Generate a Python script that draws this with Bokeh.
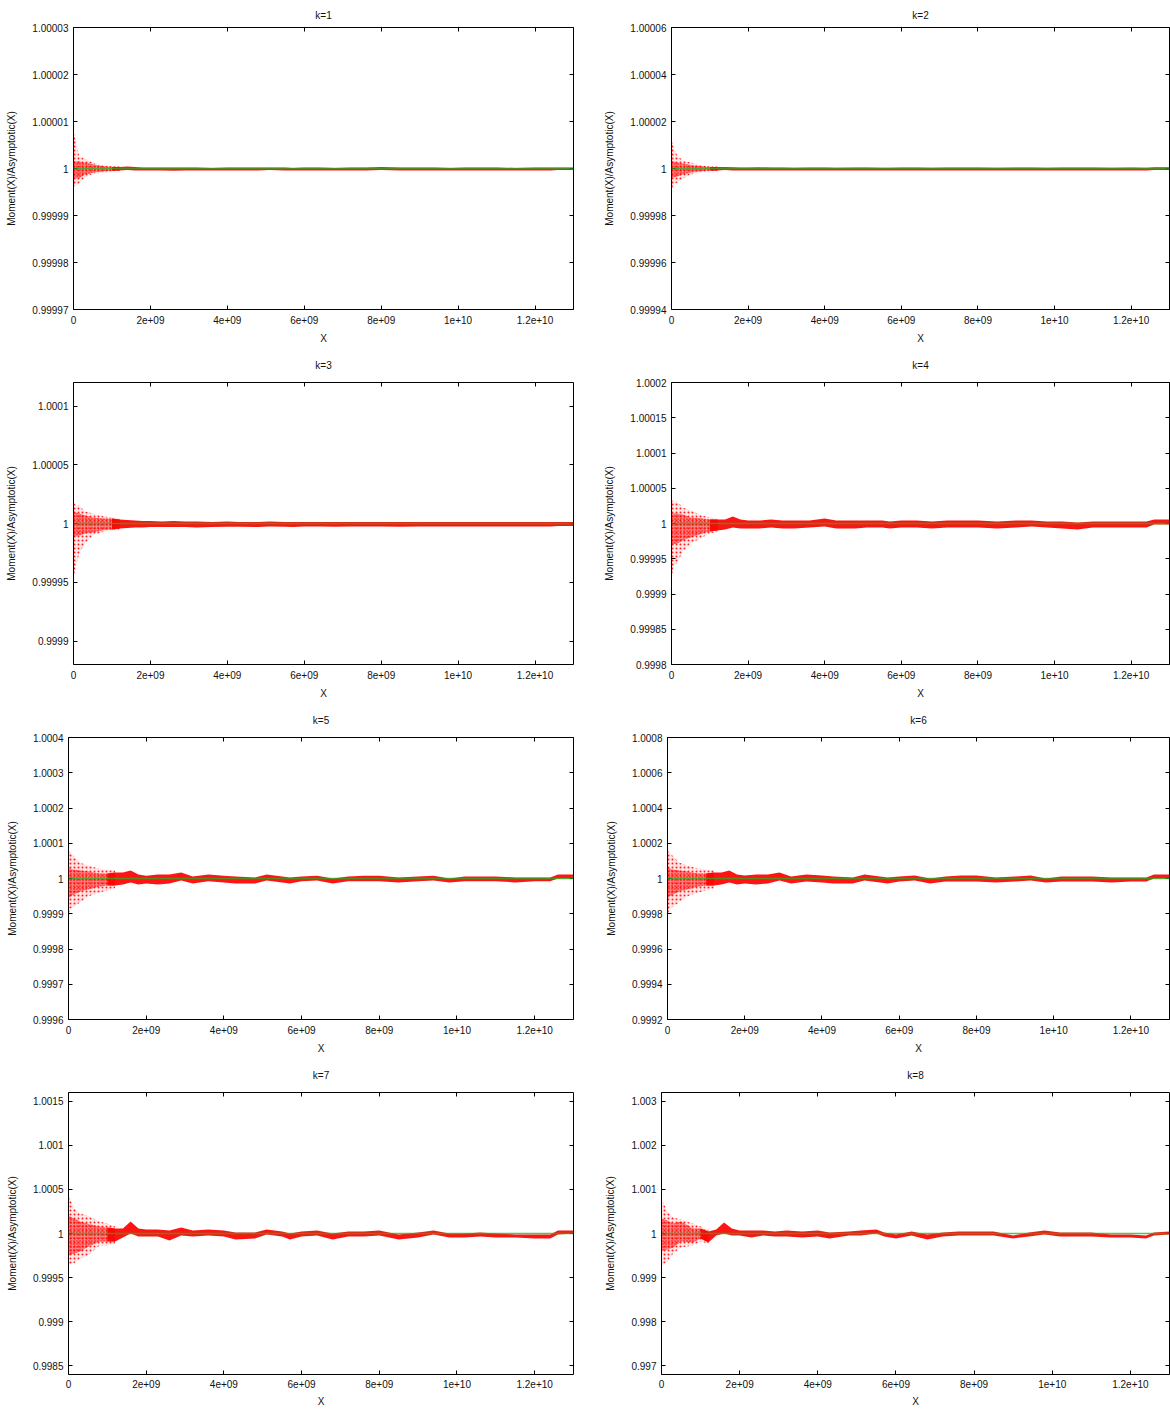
from bokeh.plotting import figure
from bokeh.models import (ColumnDataSource, FixedTicker, CustomJSTickFormatter, LinearAxis, Range1d, Span,
                          CustomLabelingPolicy)
from bokeh.layouts import column, row
from bokeh.embed import file_html
from bokeh.resources import INLINE

FONT = "Liberation Sans"
FS = "10px"

# ---------------- data ----------------
X_TICKS = [0, 2e9, 4e9, 6e9, 8e9, 1e10, 1.2e10]
X_TICK_LABELS = ["0", "2e+09", "4e+09", "6e+09", "8e+09", "1e+10", "1.2e+10"]
X_MAX = 1.3e10
ASYMPTOTE = 1.0

# x positions (units of 1e9) where the band of Moment/Asymptotic was read
X_MAIN_E9 = [0, 0.05, 0.15, 0.3, 0.5, 0.8, 1.0, 1.2, 1.4, 1.6, 1.8, 2.0, 2.3, 2.6, 2.9, 3.2, 3.6,
             4.0, 4.3, 4.8, 5.1, 5.5, 5.7, 6.0, 6.4, 6.8, 7.2, 7.6, 8.0, 8.5, 9.0, 9.4, 9.8, 10.2,
             10.6, 11.0, 11.5, 12.0, 12.4, 12.6, 13.0]
# x positions of the sparse early scatter cloud
X_EARLY_E9 = [0, 0.05, 0.15, 0.3, 0.5, 0.8, 1.0, 1.2]
N_SPARSE = 8   # the first points of the main band are a sparse cloud too

# band limits, deviation from 1 in parts per million
K1_HI = [1.7, 1.5, 1.5, 1.3, 0.9, 0.4, 0.3, 0.3, 0.4, 0.3, 0.2, 0.2, 0.2, 0.2, 0.2, 0.2, 0.1, 0.2, 0.2, 0.2, 0.2,
         0.2, 0.1, 0.2, 0.2, 0.1, 0.2, 0.2, 0.3, 0.2, 0.2, 0.2, 0.1, 0.2, 0.2, 0.2, 0.1, 0.2, 0.2, 0.2, 0.2]
K1_LO = [-2.3, -2.1, -2.1, -1.3, -0.9, -0.6, -0.5, -0.4, -0.3, -0.4, -0.4, -0.4, -0.4, -0.5, -0.4, -0.4, -0.4,
         -0.4, -0.4, -0.4, -0.3, -0.4, -0.4, -0.4, -0.4, -0.4, -0.4, -0.4, -0.3, -0.4, -0.4, -0.4, -0.4, -0.4,
         -0.4, -0.4, -0.4, -0.4, -0.4, -0.3, -0.3]
K1_OUT_HI = [7.8, 6.0, 2.6, 2.0, 1.3, 0.6, 0.5, 0.4]
K1_OUT_LO = [-4.0, -3.5, -3.2, -1.9, -1.1, -0.9, -0.6, -0.5]

K2_HI = [3.4, 3.0, 2.6, 2.1, 1.5, 0.9, 0.6, 0.6, 0.6, 0.5, 0.4, 0.4, 0.5, 0.4, 0.4, 0.3, 0.4, 0.4, 0.3, 0.4, 0.4,
         0.3, 0.3, 0.4, 0.4, 0.3, 0.4, 0.4, 0.4, 0.3, 0.4, 0.4, 0.3, 0.4, 0.4, 0.4, 0.3, 0.4, 0.3, 0.5, 0.5]
K2_LO = [-4.3, -3.8, -3.4, -2.6, -1.7, -1.1, -0.9, -0.9, -0.6, -0.8, -0.8, -0.8, -0.8, -0.9, -0.8, -0.8, -0.8,
         -0.8, -0.9, -0.8, -0.8, -0.8, -0.8, -0.8, -0.8, -0.9, -0.8, -0.8, -0.8, -0.8, -0.8, -0.8, -0.8, -0.8,
         -0.8, -0.8, -0.8, -0.8, -0.9, -0.6, -0.6]
K2_OUT_HI = [12.4, 9.0, 5.5, 3.4, 2.6, 1.3, 0.9, 0.8]
K2_OUT_LO = [-9.0, -7.0, -6.0, -4.3, -2.6, -1.5, -1.1, -1.0]

K3_HI = [10.2, 9.3, 8.5, 6.8, 5.1, 4.2, 4.2, 3.4, 3.0, 2.5, 2.1, 2.1, 1.7, 2.1, 1.7, 1.7, 1.3, 1.7, 1.3, 1.3, 1.7,
         1.3, 1.3, 1.3, 1.3, 1.3, 1.3, 1.3, 1.3, 1.3, 1.3, 1.3, 1.3, 1.3, 1.3, 1.3, 1.3, 1.3, 1.3, 1.3, 1.3]
K3_LO = [-11.9, -11.0, -10.2, -8.5, -7.6, -5.5, -5.1, -4.2, -3.8, -3.4, -3.4, -3.0, -3.0, -3.0, -3.0, -3.4, -3.0,
         -2.8, -2.8, -3.0, -2.5, -2.8, -3.0, -2.5, -2.5, -2.8, -2.5, -2.5, -2.5, -2.8, -2.5, -2.5, -2.5, -2.5,
         -2.5, -2.5, -2.5, -2.5, -2.5, -2.1, -2.1]
K3_OUT_HI = [18.6, 16.0, 15.2, 10.2, 8.5, 5.9, 5.1, 4.2]
K3_OUT_LO = [-46.0, -38.0, -25.4, -16.9, -10.2, -6.8, -5.9, -5.1]

K4_HI = [15.5, 14.1, 14.1, 12.7, 8.5, 7.0, 5.6, 5.6, 5.6, 9.9, 5.6, 4.2, 4.2, 5.6, 4.2, 4.2, 4.2, 7.0, 4.2, 4.2,
         4.2, 4.2, 2.8, 4.2, 4.2, 2.8, 4.2, 4.2, 4.2, 2.8, 4.2, 4.2, 2.8, 2.8, 1.4, 2.8, 2.8, 2.8, 2.8, 5.6, 5.6]
K4_LO = [-32.4, -29.6, -28.2, -24.0, -19.7, -14.1, -11.3, -9.9, -8.5, -5.6, -7.0, -7.0, -7.0, -5.6, -7.0, -7.0,
         -5.6, -4.2, -7.0, -7.0, -5.6, -5.6, -7.0, -5.6, -5.6, -7.0, -5.6, -5.6, -5.6, -7.0, -5.6, -4.2, -5.6,
         -7.0, -8.5, -5.6, -5.6, -5.6, -5.6, -1.4, -1.4]
K4_OUT_HI = [33.8, 31.0, 31.0, 22.6, 18.3, 11.3, 8.5, 7.0]
K4_OUT_LO = [-80.0, -60.0, -56.0, -39.5, -28.2, -19.7, -14.1, -11.3]

K5_HI = [34, 28, 25, 23, 20, 14, 14, 17, 17, 23, 11, 8, 11, 11, 17, 6, 11, 8, 6, 3, 11, 6, 3, 6, 8, 0, 6, 8, 8,
         3, 6, 8, 0, 6, 6, 6, 3, 3, 3, 11, 11]
K5_LO = [-57, -51, -45, -37, -31, -23, -20, -20, -17, -11, -17, -14, -17, -14, -6, -14, -8, -11, -14, -14, -6,
         -11, -14, -8, -6, -14, -8, -8, -8, -11, -8, -6, -11, -8, -8, -8, -11, -8, -8, 0, 0]
K5_OUT_HI = [79, 74, 62, 45, 37, 28, 25, 23]
K5_OUT_LO = [-113, -85, -79, -68, -51, -40, -34, -28]

K6_HI = [68, 57, 51, 45, 40, 28, 28, 34, 34, 45, 23, 17, 23, 23, 34, 11, 23, 17, 11, 6, 23, 11, 6, 11, 17, 0, 11,
         17, 17, 6, 11, 17, 0, 11, 11, 11, 6, 6, 6, 23, 23]
K6_LO = [-113, -102, -91, -74, -62, -45, -40, -40, -34, -23, -34, -28, -34, -28, -11, -28, -17, -23, -28, -28,
         -11, -23, -28, -17, -11, -28, -17, -17, -17, -23, -17, -11, -23, -17, -17, -17, -23, -17, -17, 0, 0]
K6_OUT_HI = [158, 147, 125, 91, 74, 57, 51, 45]
K6_OUT_LO = [-215, -170, -158, -136, -102, -79, -68, -57]

K7_HI = [203, 190, 170, 136, 110, 79, 68, 57, 57, 136, 57, 45, 45, 34, 68, 34, 45, 34, 11, 11, 45, 23, 0, 23, 34,
         0, 23, 23, 34, -11, 11, 34, 0, 0, 11, 0, -11, -11, -11, 34, 34]
K7_LO = [-249, -240, -226, -203, -150, -90, -90, -90, -45, 0, -34, -34, -34, -79, -23, -34, -23, -34, -68, -57,
         -11, -34, -68, -34, -23, -68, -34, -34, -23, -68, -45, -11, -45, -45, -34, -45, -45, -57, -57, -11, 0]
K7_OUT_HI = [430, 380, 283, 226, 200, 136, 113, 79]
K7_OUT_LO = [-362, -350, -339, -283, -250, -136, -136, -113]

K8_HI = [339, 320, 294, 226, 271, 113, 113, 45, 90, 249, 113, 68, 68, 68, 45, 68, 45, 68, 23, 45, 68, 90, 23,
         -23, 45, -23, 23, 45, 45, 45, -45, 23, 68, 23, 23, 23, -23, -23, -45, 23, 45]
K8_LO = [-407, -380, -362, -316, -181, -203, -113, -203, -45, 0, -45, -45, -90, -45, -68, -68, -90, -68, -113,
         -45, -45, 0, -68, -113, -45, -136, -68, -45, -45, -45, -113, -68, -23, -68, -68, -68, -90, -90, -113,
         -45, -23]
K8_OUT_HI = [814, 700, 497, 362, 316, 226, 158, 90]
K8_OUT_LO = [-768, -700, -633, -452, -316, -271, -181, -226]

Y_TICKS = {
    1: [0.99997, 0.99998, 0.99999, 1.0, 1.00001, 1.00002, 1.00003],
    2: [0.99994, 0.99996, 0.99998, 1.0, 1.00002, 1.00004, 1.00006],
    3: [0.9999, 0.99995, 1.0, 1.00005, 1.0001],
    4: [0.9998, 0.99985, 0.9999, 0.99995, 1.0, 1.00005, 1.0001, 1.00015, 1.0002],
    5: [0.9996, 0.9997, 0.9998, 0.9999, 1.0, 1.0001, 1.0002, 1.0003, 1.0004],
    6: [0.9992, 0.9994, 0.9996, 0.9998, 1.0, 1.0002, 1.0004, 1.0006, 1.0008],
    7: [0.9985, 0.999, 0.9995, 1.0, 1.0005, 1.001, 1.0015],
    8: [0.997, 0.998, 0.999, 1.0, 1.001, 1.002, 1.003],
}
Y_TICK_LABELS = {
    1: ["0.99997", "0.99998", "0.99999", "1", "1.00001", "1.00002", "1.00003"],
    2: ["0.99994", "0.99996", "0.99998", "1", "1.00002", "1.00004", "1.00006"],
    3: ["0.9999", "0.99995", "1", "1.00005", "1.0001"],
    4: ["0.9998", "0.99985", "0.9999", "0.99995", "1", "1.00005", "1.0001", "1.00015", "1.0002"],
    5: ["0.9996", "0.9997", "0.9998", "0.9999", "1", "1.0001", "1.0002", "1.0003", "1.0004"],
    6: ["0.9992", "0.9994", "0.9996", "0.9998", "1", "1.0002", "1.0004", "1.0006", "1.0008"],
    7: ["0.9985", "0.999", "0.9995", "1", "1.0005", "1.001", "1.0015"],
    8: ["0.997", "0.998", "0.999", "1", "1.001", "1.002", "1.003"],
}
Y_RANGES = {
    1: (0.99997, 1.00003), 2: (0.99994, 1.00006), 3: (0.99988, 1.00012), 4: (0.9998, 1.0002),
    5: (0.9996, 1.0004), 6: (0.9992, 1.0008), 7: (0.9984, 1.0016), 8: (0.9968, 1.0032),
}
BANDS = {
    1: (K1_HI, K1_LO, K1_OUT_HI, K1_OUT_LO), 2: (K2_HI, K2_LO, K2_OUT_HI, K2_OUT_LO),
    3: (K3_HI, K3_LO, K3_OUT_HI, K3_OUT_LO), 4: (K4_HI, K4_LO, K4_OUT_HI, K4_OUT_LO),
    5: (K5_HI, K5_LO, K5_OUT_HI, K5_OUT_LO), 6: (K6_HI, K6_LO, K6_OUT_HI, K6_OUT_LO),
    7: (K7_HI, K7_LO, K7_OUT_HI, K7_OUT_LO), 8: (K8_HI, K8_LO, K8_OUT_HI, K8_OUT_LO),
}

# ---------------- layout (borders in px) ----------------
LEFT_BORDER = {1: 73, 3: 73, 5: 68, 7: 68, 2: 73, 4: 73, 6: 69, 8: 63}
RIGHT_BORDER = {1: 25, 3: 25, 5: 25, 7: 25, 2: 1, 4: 1, 6: 1, 8: 1}
COL_WIDTH = {0: 598, 1: 572}
TOP_BORDER = [27, 36, 36, 36]
BOTTOM_BORDER = [36, 36, 36, 34]
TITLE_STANDOFF = [14, 23, 23, 23]
FRAME_H = 283

RED = "#ff0000"
GREEN = "#1fb01f"

LOOKUP_JS = """
let b = 0;
for (let i = 0; i < vals.length; i++) {
  if (Math.abs(vals[i] - tick) < Math.abs(vals[b] - tick)) { b = i; }
}
return labs[b];
"""

NO_LABELS = CustomLabelingPolicy(code="""
for (const i of indices) { indices.unset(i) }
return indices
""")


def make_panel(k, r):
    col = (k - 1) % 2
    top, bottom = TOP_BORDER[r], BOTTOM_BORDER[r]
    p = figure(width=COL_WIDTH[col], height=top + FRAME_H + bottom, output_backend="svg",
               toolbar_location=None,
               x_range=Range1d(0, X_MAX), y_range=Range1d(*Y_RANGES[k]),
               min_border_left=LEFT_BORDER[k], min_border_right=RIGHT_BORDER[k],
               min_border_top=top, min_border_bottom=bottom,
               x_axis_label="X", y_axis_label="Moment(X)/Asymptotic(X)")
    p.title.text = "k=%d" % k
    p.title.align = "center"
    p.title.text_font = FONT
    p.title.text_font_size = FS
    p.title.text_font_style = "normal"
    p.title.text_color = "#111111"
    p.title.standoff = TITLE_STANDOFF[r]
    p.grid.visible = False
    p.background_fill_color = "white"
    p.border_fill_color = "white"
    p.outline_line_color = "black"
    p.outline_line_width = 1

    hi, lo, ohi, olo = BANDS[k]
    xm = [v * 1e9 for v in X_MAIN_E9]
    xe = [v * 1e9 for v in X_EARLY_E9]
    top_v = [1 + v * 1e-6 for v in hi]
    bot_v = [1 + v * 1e-6 for v in lo]
    cloud = ColumnDataSource(dict(x=xe, top=[1 + v * 1e-6 for v in ohi], bot=[1 + v * 1e-6 for v in olo]))
    dense_early = ColumnDataSource(dict(x=xm[:N_SPARSE], top=top_v[:N_SPARSE], bot=bot_v[:N_SPARSE]))
    main = ColumnDataSource(dict(x=xm[N_SPARSE - 2:], top=top_v[N_SPARSE - 2:], bot=bot_v[N_SPARSE - 2:]))
    p.varea(x="x", y1="bot", y2="top", source=cloud, fill_color=RED, fill_alpha=0.10,
            hatch_pattern=".", hatch_color=RED, hatch_scale=4, hatch_weight=1.2, hatch_alpha=0.85)
    p.varea(x="x", y1="bot", y2="top", source=dense_early, fill_color=RED, fill_alpha=0.45,
            hatch_pattern=".", hatch_color=RED, hatch_scale=3, hatch_weight=1.5, hatch_alpha=1.0)
    p.varea(x="x", y1="bot", y2="top", source=main, fill_color=RED, fill_alpha=0.92)
    p.add_layout(Span(location=ASYMPTOTE, dimension="width", line_color=GREEN, line_width=1.3,
                      line_alpha=0.75))

    xt = FixedTicker(ticks=X_TICKS)
    yt = FixedTicker(ticks=Y_TICKS[k])
    for ax in p.xaxis:
        ax.ticker = xt
        ax.formatter = CustomJSTickFormatter(args=dict(vals=X_TICKS, labs=X_TICK_LABELS), code=LOOKUP_JS)
        ax.major_label_standoff = 6 if r < 3 else 5
        ax.axis_label_standoff = 6 if r < 3 else 5
    for ax in p.yaxis:
        ax.ticker = yt
        ax.formatter = CustomJSTickFormatter(args=dict(vals=Y_TICKS[k], labs=Y_TICK_LABELS[k]), code=LOOKUP_JS)
        ax.major_label_standoff = 5
        ax.axis_label_standoff = 12
    for ax in list(p.xaxis) + list(p.yaxis):
        ax.axis_line_color = None
        ax.major_tick_in = 4
        ax.major_tick_out = 0
        ax.major_tick_line_color = "black"
        ax.minor_tick_line_color = None
        ax.major_label_text_font = FONT
        ax.major_label_text_font_size = FS
        ax.major_label_text_color = "#111111"
        ax.axis_label_text_font = FONT
        ax.axis_label_text_font_size = FS
        ax.axis_label_text_font_style = "normal"
        ax.axis_label_text_color = "#111111"

    # mirrored ticks on top and right, as gnuplot draws them (no labels)
    for side, tk in (("above", xt), ("right", yt)):
        ax = LinearAxis(ticker=tk, major_label_policy=NO_LABELS, major_label_text_font_size="0px",
                        major_label_standoff=0, axis_line_color=None, major_tick_in=4, major_tick_out=0,
                        major_tick_line_color="black", minor_tick_line_color=None)
        p.add_layout(ax, side)
    return p


rows = []
for r in range(4):
    rows.append(row(make_panel(2 * r + 1, r), make_panel(2 * r + 2, r)))
layout = column(*rows)

open("out.html", "w").write(file_html(layout, INLINE))
